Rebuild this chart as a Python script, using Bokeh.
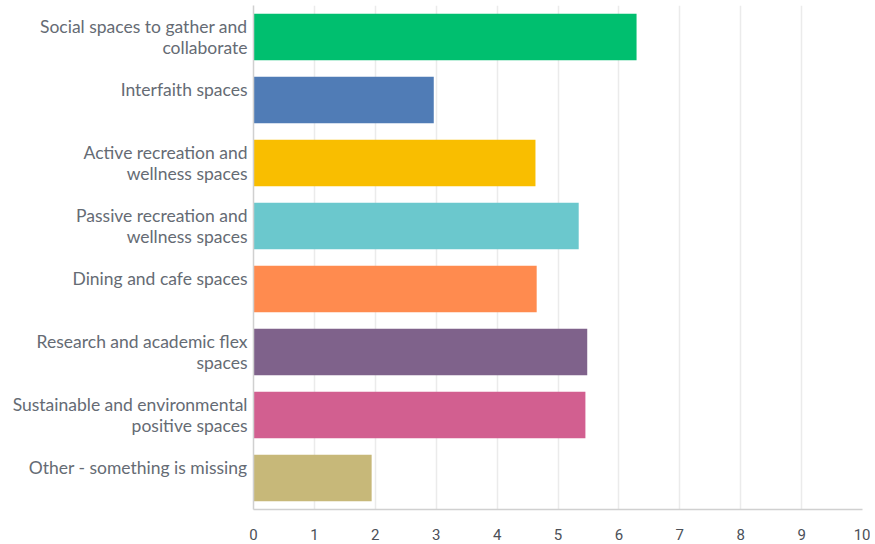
from bokeh.plotting import figure
from bokeh.models import ColumnDataSource, FactorRange, Range1d, FixedTicker
from bokeh.embed import file_html
from bokeh.resources import INLINE

categories = [
    "Social spaces to gather and\ncollaborate",
    "Interfaith spaces\n",
    "Active recreation and\nwellness spaces",
    "Passive recreation and\nwellness spaces",
    "Dining and cafe spaces\n",
    "Research and academic flex\nspaces",
    "Sustainable and environmental\npositive spaces",
    "Other - something is missing\n",
]
values = [6.29, 2.96, 4.63, 5.34, 4.65, 5.48, 5.45, 1.94]
colors = ["#00BF6F", "#507CB6", "#F9BE00", "#6BC8CD", "#FF8B4F", "#7F628B", "#D25F90", "#C7B879"]
x_ticks = [0, 1, 2, 3, 4, 5, 6, 7, 8, 9, 10]

source = ColumnDataSource(dict(cat=categories, val=values, color=colors))

p = figure(
    width=870, height=542,
    y_range=FactorRange(factors=categories[::-1], range_padding=0),
    x_range=Range1d(0, 10),
    output_backend="svg", toolbar_location=None,
    min_border_left=253, min_border_right=8, min_border_top=5, min_border_bottom=0,
)
p.hbar(y="cat", right="val", left=0, height=0.74, color="color", source=source, line_color=None)

p.outline_line_color = None
p.ygrid.grid_line_color = None
p.xgrid.grid_line_color = "#ebebeb"
p.xgrid.grid_line_width = 1.5
p.xaxis.ticker = FixedTicker(ticks=x_ticks)
p.xaxis.axis_line_color = "#d0d0d0"
p.xaxis.axis_line_width = 1.5
p.xaxis.major_tick_line_color = None
p.xaxis.minor_tick_line_color = None
p.xaxis.major_label_text_font = "Roboto"
p.xaxis.major_label_text_font_size = "15px"
p.xaxis.major_label_text_color = "#4b5058"
p.xaxis.major_label_standoff = 13
p.yaxis.axis_line_color = "#d0d0d0"
p.yaxis.axis_line_width = 1.5
p.yaxis.major_tick_line_color = None
p.yaxis.minor_tick_line_color = None
p.yaxis.major_label_text_font = "Lato"
p.yaxis.major_label_text_font_size = "17.5px"
p.yaxis.major_label_text_color = "#656b74"
p.yaxis.major_label_text_line_height = 1.0
p.yaxis.major_label_standoff = 0

open("out.html", "w").write(file_html(p, INLINE))
